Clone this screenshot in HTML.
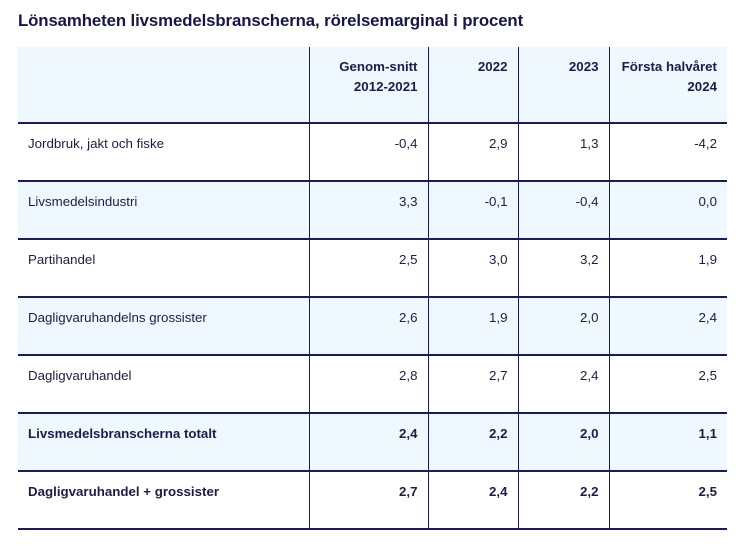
<!DOCTYPE html>
<html><head><meta charset="utf-8"><style>
body{margin:0;background:#fff;font-family:"Liberation Sans",sans-serif;color:#1c1c4a;width:746px;height:551px;overflow:hidden;position:relative}
h1{position:absolute;left:18px;top:11px;margin:0;font-size:16.8px;font-weight:bold;color:#16164a;letter-spacing:-0.1px}
table{position:absolute;left:18px;top:47px;width:709px;border-collapse:collapse;font-size:13.3px}
td,th{vertical-align:top;padding:12px 10px 0 10px;text-align:right;border-left:1px solid #1a1a5e;border-right:1px solid #1a1a5e;border-bottom:2px solid #1a1a5e;box-sizing:border-box}
td:first-child,th:first-child{text-align:left;border-left:none}
td:last-child,th:last-child{border-right:none}
th{height:76px;font-weight:bold;line-height:20px;padding-top:10px;background:#eff8fe}
tr.b td{height:58px}
tr.alt td{background:#eff8fe}
tr.bold td{font-weight:bold}
</style></head><body>
<h1>Lönsamheten livsmedelsbranscherna, rörelsemarginal i procent</h1>
<table>
<colgroup><col style="width:291px"><col style="width:119px"><col style="width:90px"><col style="width:91px"><col style="width:118px"></colgroup>
<tr><th></th><th>Genom-snitt<br>2012-2021</th><th>2022</th><th>2023</th><th>Första halvåret<br>2024</th></tr>
<tr class="b"><td>Jordbruk, jakt och fiske</td><td>-0,4</td><td>2,9</td><td>1,3</td><td>-4,2</td></tr>
<tr class="b alt"><td>Livsmedelsindustri</td><td>3,3</td><td>-0,1</td><td>-0,4</td><td>0,0</td></tr>
<tr class="b"><td>Partihandel</td><td>2,5</td><td>3,0</td><td>3,2</td><td>1,9</td></tr>
<tr class="b alt"><td>Dagligvaruhandelns grossister</td><td>2,6</td><td>1,9</td><td>2,0</td><td>2,4</td></tr>
<tr class="b"><td>Dagligvaruhandel</td><td>2,8</td><td>2,7</td><td>2,4</td><td>2,5</td></tr>
<tr class="b alt bold"><td>Livsmedelsbranscherna totalt</td><td>2,4</td><td>2,2</td><td>2,0</td><td>1,1</td></tr>
<tr class="b bold"><td>Dagligvaruhandel + grossister</td><td>2,7</td><td>2,4</td><td>2,2</td><td>2,5</td></tr>
</table>
</body></html>
